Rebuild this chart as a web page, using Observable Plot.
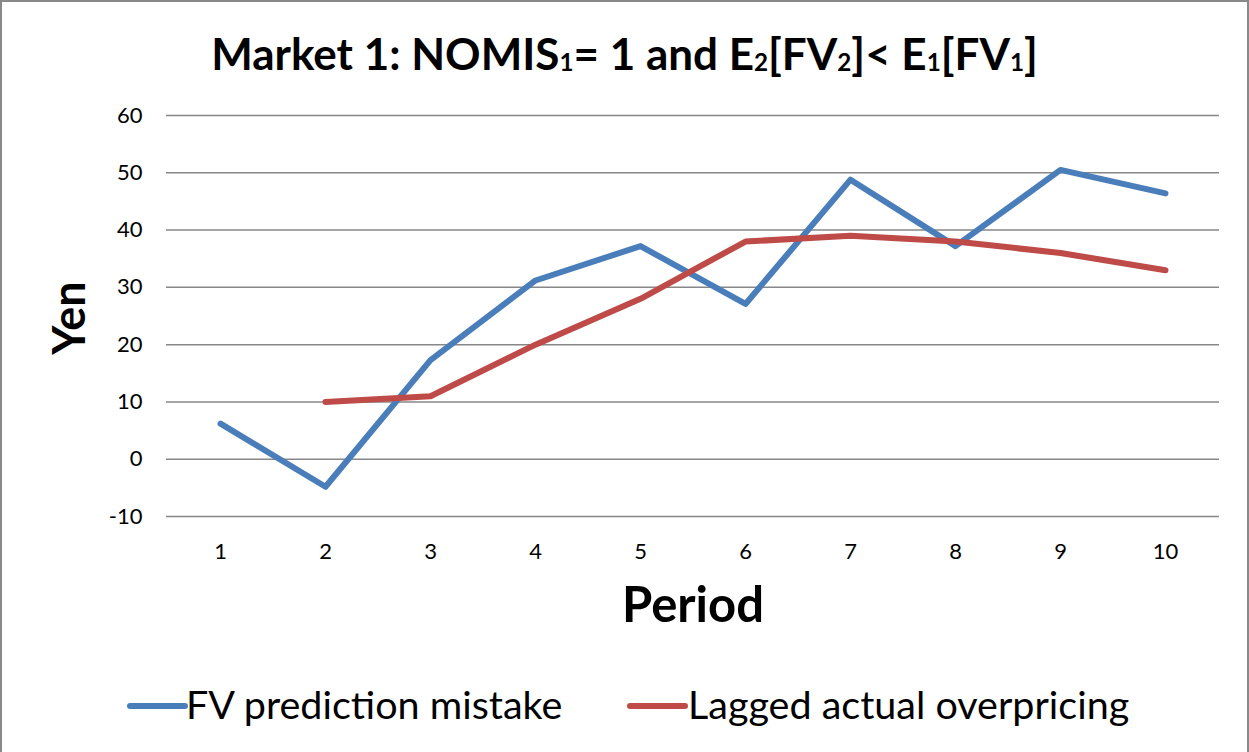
<!DOCTYPE html>
<html>
<head>
<meta charset="utf-8">
<script src="https://cdn.jsdelivr.net/npm/d3@7"></script>
<script src="https://cdn.jsdelivr.net/npm/@observablehq/plot@0.6"></script>
<style>
  html, body { margin: 0; padding: 0; background: #fff; }
  #fig { width: 1249px; height: 752px; box-sizing: border-box; border: 2px solid #898989; border-bottom: none; overflow: hidden; font-family: Lato, "Open Sans", sans-serif; background: #fff; }
  #title { height: 93px; box-sizing: border-box; padding-top: 29px; line-height: 44px; font-size: 44px; font-weight: bold; text-align: center; color: #000; white-space: nowrap; }
  #title sub { font-size: 0.55em; vertical-align: baseline; position: relative; top: 0.05em; }
  #chart svg { display: block; }
  #chart svg g[aria-label$="tick label"] { font-size: 22px !important; }
  #chart svg g[aria-label$="tick label"] text { font-size: 22px !important; }
  #legend { display: block; }
</style>
</head>
<body>
<div id="fig">
  <div id="title">Market 1: NOMIS<sub>1</sub>= 1 and E<sub>2</sub>[FV<sub>2</sub>]&lt; E<sub>1</sub>[FV<sub>1</sub>]</div>
  <div id="chart"></div>
  <div id="legendBox"></div>
</div>
<script>
const periods = [1, 2, 3, 4, 5, 6, 7, 8, 9, 10];
const fvMistake = [6.2, -4.8, 17.3, 31.2, 37.2, 27.1, 48.8, 37.2, 50.5, 46.4];
const laggedOverpricing = [null, 10, 11, 20, 28, 38, 39, 38, 36, 33];
const yTicks = [-10, 0, 10, 20, 30, 40, 50, 60];
const seriesNames = ["FV prediction mistake", "Lagged actual overpricing"];
const seriesColors = ["#4A7EBB", "#BE4B48"];
const xLabel = "Period";
const yLabel = "Yen";

const rows = [];
periods.forEach((p, i) => {
  if (fvMistake[i] != null) rows.push({period: p, value: fvMistake[i], series: seriesNames[0]});
});
periods.forEach((p, i) => {
  if (laggedOverpricing[i] != null) rows.push({period: p, value: laggedOverpricing[i], series: seriesNames[1]});
});

const chart = Plot.plot({
  width: 1245,
  height: 555,
  marginLeft: 164,
  marginRight: 28,
  marginTop: 20,
  marginBottom: 134,
  style: {fontFamily: "Lato, 'Open Sans', sans-serif", fontSize: "22px", color: "#000", background: "#fff"},
  x: {type: "point", domain: periods, padding: 0.5},
  y: {domain: [-10, 60]},
  color: {domain: seriesNames, range: seriesColors},
  marks: [
    Plot.ruleY(yTicks, {stroke: "#878787", strokeWidth: 1.5}),
    Plot.line(rows, {x: "period", y: "value", z: "series", stroke: "series", strokeWidth: 6, strokeLinecap: "round", strokeLinejoin: "round"}),
    Plot.axisX(periods, {tickSize: 0, tickPadding: 27, fontSize: 22, label: null, fill: "#000", tickFormat: d => String(d)}),
    Plot.axisY(yTicks, {tickSize: 0, tickPadding: 24, fontSize: 22, label: null, fill: "#000", tickFormat: d => String(d)}),
    Plot.text([xLabel], {frameAnchor: "bottom", dy: 90, fontSize: 49, fontWeight: "bold", textAnchor: "middle", lineAnchor: "middle", fill: "#000"}),
    Plot.text([yLabel], {frameAnchor: "left", dx: -96, dy: 2, rotate: -90, fontSize: 45, fontWeight: "bold", textAnchor: "middle", lineAnchor: "middle", fill: "#000"})
  ]
});
document.getElementById("chart").appendChild(chart);

// Legend below the chart
const legend = d3.select("#legendBox").append("svg")
  .attr("id", "legend")
  .attr("width", 1245).attr("height", 98)
  .style("font-family", "Lato, 'Open Sans', sans-serif");
const legendItems = [
  {name: seriesNames[0], color: seriesColors[0], x0: 128, x1: 183, tx: 184},
  {name: seriesNames[1], color: seriesColors[1], x0: 628, x1: 683, tx: 686}
];
legendItems.forEach(it => {
  legend.append("line").attr("x1", it.x0).attr("x2", it.x1).attr("y1", 56).attr("y2", 56)
    .attr("stroke", it.color).attr("stroke-width", 6).attr("stroke-linecap", "round");
  legend.append("text").attr("x", it.tx).attr("y", 69).attr("font-size", 39.5).attr("fill", "#000").text(it.name);
});
</script>
</body>
</html>
